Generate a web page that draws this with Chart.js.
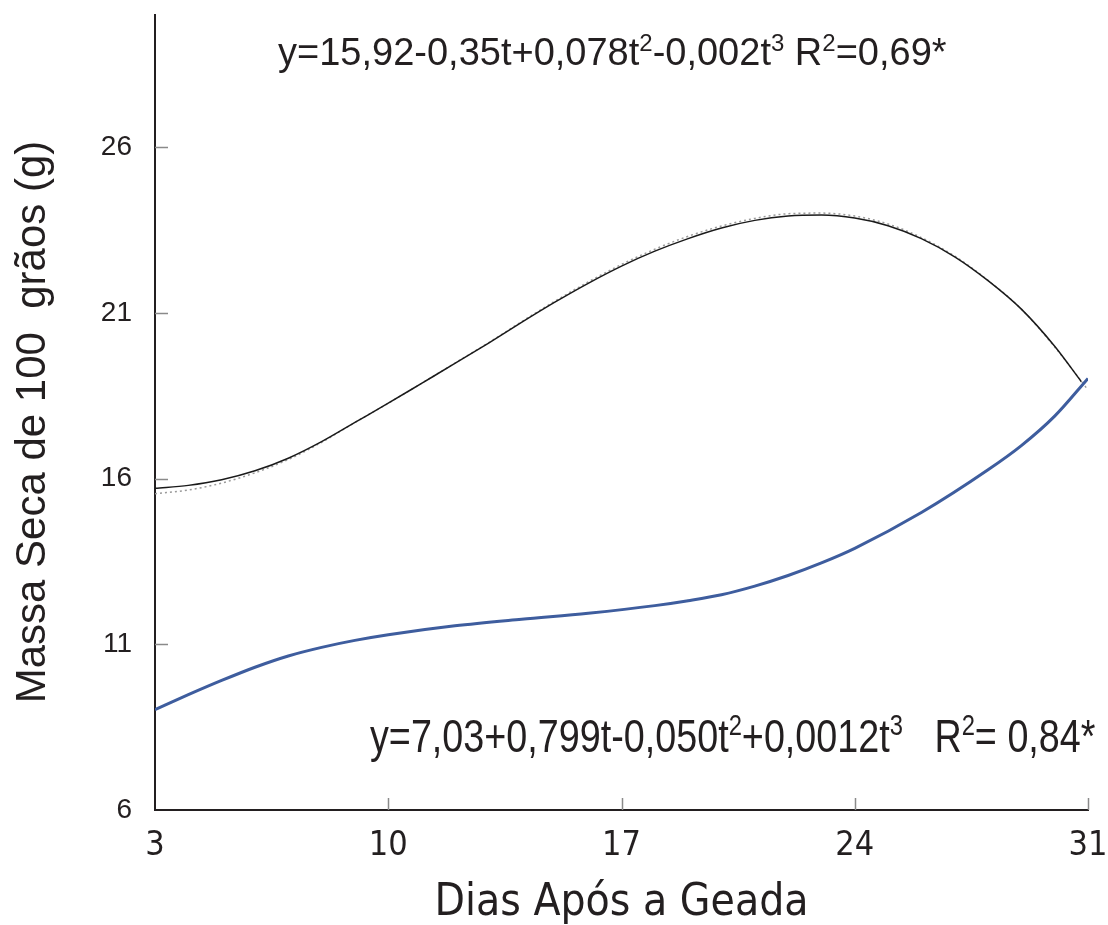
<!DOCTYPE html>
<html>
<head>
<meta charset="utf-8">
<script src="https://cdn.jsdelivr.net/npm/chart.js@4/dist/chart.umd.min.js"></script>
<style>
  html, body { margin: 0; padding: 0; background: #ffffff; }
  #wrap { width: 1108px; height: 925px; }
</style>
</head>
<body>
<div id="wrap"><canvas id="c" width="1108" height="925"></canvas></div>
<script>
// ---- Data ----
const xTicks = [3, 10, 17, 24, 31];
const yTicks = [6, 11, 16, 21, 26];

// Black fitted curve (solid)
const fitDays   = [3, 4, 5, 6, 7, 8, 9, 10, 11, 12, 13, 14, 15, 16, 17, 18, 19, 20, 21, 22, 23, 24, 25, 26, 27, 28, 29, 30, 30.8];
const fitMass   = [15.71, 15.80, 15.97, 16.24, 16.62, 17.12, 17.70, 18.28, 18.88, 19.48, 20.09, 20.72, 21.33, 21.90, 22.42, 22.87, 23.25, 23.57, 23.80, 23.93, 23.96, 23.87, 23.64, 23.25, 22.70, 21.98, 21.12, 20.00, 18.93];

// Grey dotted curve
const dotDays   = [3, 4, 5, 6, 7, 8, 9, 10, 11, 12, 13, 14, 15, 16, 17, 18, 19, 20, 21, 22, 23, 24, 25, 26, 27, 28, 29, 30, 31];
const dotMass   = [15.55, 15.66, 15.87, 16.18, 16.58, 17.10, 17.70, 18.28, 18.88, 19.49, 20.10, 20.74, 21.36, 21.94, 22.47, 22.93, 23.32, 23.63, 23.86, 24.00, 24.02, 23.93, 23.69, 23.28, 22.72, 21.99, 21.12, 19.98, 18.68];

// Blue curve
const blueDays  = [3, 4, 5, 6, 7, 8, 9, 10, 12, 14, 16, 18, 19, 20, 21, 22, 23, 24, 26, 28, 29, 30, 31];
const blueMass  = [9.03, 9.48, 9.91, 10.31, 10.65, 10.91, 11.12, 11.29, 11.56, 11.76, 11.94, 12.17, 12.32, 12.50, 12.76, 13.08, 13.46, 13.90, 14.98, 16.27, 17.00, 17.89, 19.03];

// Equations (text runs: [text, isSuperscript])
const eqTop = [["y=15,92-0,35t+0,078t", false], ["2", true], ["-0,002t", false], ["3", true], [" R", false], ["2", true], ["=0,69*", false]];
const eqBottom = [["y=7,03+0,799t-0,050t", false], ["2", true], ["+0,0012t", false], ["3", true], ["   R", false], ["2", true], ["= 0,84*", false]];
const yTitle = 'Massa Seca de 100  grãos (g)';
const xTitle = 'Dias Após a Geada';

const SANS = "'Liberation Sans', Arial, sans-serif";
const NARROW = "'Liberation Sans Narrow', 'Arial Narrow', 'DejaVu Sans Condensed', sans-serif";

function pts(xs, ys) { return xs.map((x, i) => ({ x: x, y: ys[i] })); }

function drawRich(ctx, runs, x, y, size, family, sx) {
  ctx.save();
  ctx.translate(x, y);
  ctx.scale(sx, 1);
  let cx = 0;
  ctx.textBaseline = 'alphabetic';
  ctx.textAlign = 'left';
  ctx.fillStyle = '#231f20';
  for (const [t, sup] of runs) {
    const s = sup ? Math.round(size * 0.62) : size;
    ctx.font = s + 'px ' + family;
    ctx.fillText(t, cx, sup ? -size * 0.38 : 0);
    cx += ctx.measureText(t).width;
  }
  ctx.restore();
}

const extras = {
  id: 'extras',
  afterDraw(chart) {
    const ctx = chart.ctx;
    const xs = chart.scales.x, ys = chart.scales.y;
    const area = chart.chartArea;
    ctx.save();
    ctx.strokeStyle = '#8a8a8a';
    ctx.lineWidth = 1.5;
    // inward ticks on y axis
    yTicks.slice(1).forEach(v => {
      const py = Math.round(ys.getPixelForValue(v)) + 0.5;
      ctx.beginPath(); ctx.moveTo(area.left, py); ctx.lineTo(area.left + 13, py); ctx.stroke();
    });
    // inward ticks on x axis
    xTicks.slice(1).forEach(v => {
      const px = Math.round(xs.getPixelForValue(v)) + 0.5;
      ctx.beginPath(); ctx.moveTo(px, area.bottom); ctx.lineTo(px, area.bottom - 12); ctx.stroke();
    });
    // y axis title (rotated)
    ctx.save();
    ctx.translate(33, 422);
    ctx.rotate(-Math.PI / 2);
    ctx.font = '42px ' + SANS;
    ctx.fillStyle = '#231f20';
    ctx.textAlign = 'center';
    ctx.textBaseline = 'middle';
    ctx.fillText(yTitle, 0, 0);
    ctx.restore();
    // equations
    drawRich(ctx, eqTop, 278, 65, 38, SANS, 1);
    drawRich(ctx, eqBottom, 370, 752, 46, SANS, 0.82);
    ctx.restore();
  }
};

new Chart(document.getElementById('c'), {
  type: 'line',
  data: {
    datasets: [
      { data: pts(dotDays, dotMass), borderColor: '#9a9a9a', borderWidth: 1.5, borderDash: [2, 3], pointRadius: 0, cubicInterpolationMode: 'monotone', order: 3 },
      { data: pts(fitDays, fitMass), borderColor: '#1a1a1a', borderWidth: 1.5, pointRadius: 0, cubicInterpolationMode: 'monotone', order: 2 },
      { data: pts(blueDays, blueMass), borderColor: '#3e5d9e', borderWidth: 3, pointRadius: 0, cubicInterpolationMode: 'monotone', order: 1 }
    ]
  },
  options: {
    responsive: false,
    devicePixelRatio: 1,
    animation: false,
    layout: { padding: { left: 0, right: 20, top: 15, bottom: 0 } },
    plugins: { legend: { display: false }, tooltip: { enabled: false } },
    scales: {
      x: {
        type: 'linear', min: 3, max: 31,
        afterBuildTicks: (axis) => { axis.ticks = xTicks.map(v => ({ value: v })); },
        afterFit: (axis) => { axis.height = 115; axis.paddingLeft = 0; axis.paddingRight = 0; },
        grid: { display: true, drawOnChartArea: false, drawTicks: false },
        border: { display: true, color: '#231f20', width: 2 },
        ticks: { font: { family: NARROW, size: 34 }, color: '#231f20', padding: 16, maxRotation: 0, autoSkip: false },
        title: { display: true, text: xTitle, font: { family: NARROW, size: 44 }, color: '#231f20', padding: { top: 0, bottom: -5 } }
      },
      y: {
        type: 'linear', min: 6, max: 30,
        afterBuildTicks: (axis) => { axis.ticks = yTicks.map(v => ({ value: v })); },
        afterFit: (axis) => { axis.width = 155; axis.paddingTop = 0; axis.paddingBottom = 0; },
        grid: { display: true, drawOnChartArea: false, drawTicks: false },
        border: { display: true, color: '#231f20', width: 2 },
        ticks: { font: { family: SANS, size: 28 }, color: '#231f20', padding: 23 },
        title: { display: false }
      }
    }
  },
  plugins: [extras]
});
</script>
</body>
</html>
